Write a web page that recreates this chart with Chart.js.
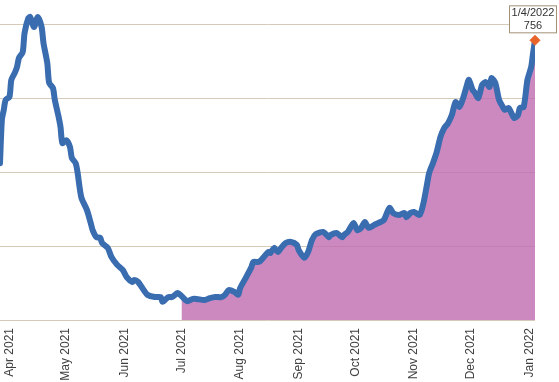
<!DOCTYPE html>
<html>
<head>
<meta charset="utf-8">
<script src="https://cdn.jsdelivr.net/npm/chart.js@4.4.1/dist/chart.umd.min.js"></script>
<style>
  html, body { margin: 0; padding: 0; background: #ffffff; }
  #chart { display: block; }
</style>
</head>
<body>
<canvas id="chart" width="559" height="382"></canvas>
<script>
// daily series
const dates = [
  "2021-03-27", "2021-03-28", "2021-03-29", "2021-03-30", "2021-04-01", "2021-04-02",
  "2021-04-04", "2021-04-05", "2021-04-06", "2021-04-08", "2021-04-09", "2021-04-11",
  "2021-04-12", "2021-04-14", "2021-04-16", "2021-04-18", "2021-04-19", "2021-04-21",
  "2021-04-22", "2021-04-24", "2021-04-25", "2021-04-27", "2021-04-28", "2021-04-29",
  "2021-05-01", "2021-05-03", "2021-05-04", "2021-05-06", "2021-05-07", "2021-05-09",
  "2021-05-12", "2021-05-14", "2021-05-15", "2021-05-17", "2021-05-19", "2021-05-20",
  "2021-05-23", "2021-05-25", "2021-05-28", "2021-05-31", "2021-06-02", "2021-06-05",
  "2021-06-06", "2021-06-08", "2021-06-11", "2021-06-13", "2021-06-17", "2021-06-20",
  "2021-06-21", "2021-06-24", "2021-06-26", "2021-06-29", "2021-07-01", "2021-07-04",
  "2021-07-07", "2021-07-09", "2021-07-13", "2021-07-16", "2021-07-19", "2021-07-22",
  "2021-07-24", "2021-07-26", "2021-07-29", "2021-07-31", "2021-08-01", "2021-08-04",
  "2021-08-07", "2021-08-08", "2021-08-11", "2021-08-14", "2021-08-16", "2021-08-17",
  "2021-08-19", "2021-08-21", "2021-08-23", "2021-08-25", "2021-08-28", "2021-08-31",
  "2021-09-01", "2021-09-04", "2021-09-06", "2021-09-08", "2021-09-10", "2021-09-14",
  "2021-09-17", "2021-09-18", "2021-09-21", "2021-09-24", "2021-09-25", "2021-09-27",
  "2021-09-30", "2021-10-02", "2021-10-04", "2021-10-06", "2021-10-08", "2021-10-11",
  "2021-10-13", "2021-10-16", "2021-10-19", "2021-10-21", "2021-10-24", "2021-10-27",
  "2021-10-28", "2021-10-30", "2021-11-01", "2021-11-04", "2021-11-06", "2021-11-08",
  "2021-11-09", "2021-11-11", "2021-11-13", "2021-11-15", "2021-11-17", "2021-11-19",
  "2021-11-21", "2021-11-23", "2021-11-25", "2021-11-27", "2021-11-29", "2021-11-30",
  "2021-12-02", "2021-12-03", "2021-12-05", "2021-12-07", "2021-12-09", "2021-12-11",
  "2021-12-12", "2021-12-14", "2021-12-16", "2021-12-18", "2021-12-19", "2021-12-21",
  "2021-12-24", "2021-12-26", "2021-12-27", "2021-12-29", "2021-12-31", "2022-01-02",
  "2022-01-03", "2022-01-04"
];
const values = [
  424, 541, 568, 595, 603, 649,
  670, 684, 708, 724, 776, 816,
  819, 792, 819, 792, 749, 695,
  641, 627, 595, 549, 522, 478,
  486, 468, 438, 424, 400, 332,
  297, 262, 243, 224, 222, 208,
  195, 170, 149, 135, 116, 103,
  108, 103, 81, 68, 62, 62,
  49, 62, 62, 73, 65, 51,
  57, 57, 54, 59, 62, 62,
  68, 81, 76, 68, 86, 114,
  143, 157, 157, 173, 184, 181,
  195, 184, 197, 208, 211, 203,
  189, 168, 184, 216, 232, 238,
  224, 230, 235, 224, 230, 238,
  262, 243, 249, 265, 249, 257,
  262, 270, 303, 289, 284, 289,
  278, 289, 292, 284, 316, 370,
  397, 424, 454, 495, 519, 532,
  554, 589, 576, 600, 635, 649,
  622, 616, 600, 635, 643, 630,
  654, 641, 595, 576, 568, 573,
  546, 554, 573, 576, 649, 684,
  722, 756
];
const shadeFrom = "2021-07-01";
const tickDates = [
  "2021-04-01", "2021-05-01", "2021-06-01", "2021-07-01", "2021-08-01",
  "2021-09-01", "2021-10-01", "2021-11-01", "2021-12-01", "2022-01-01"
];
const tickLabels = [
  "Apr 2021", "May 2021", "Jun 2021", "Jul 2021", "Aug 2021",
  "Sep 2021", "Oct 2021", "Nov 2021", "Dec 2021", "Jan 2022"
];
const gridValues = [0, 200, 400, 600, 800];
const calloutDate = "1/4/2022";

const dayNum = (s) => Date.parse(s + "T00:00:00Z") / 86400000;

const points = dates.map((d, i) => ({ x: dayNum(d), y: values[i] }));
const shaded = points.filter(p => p.x >= dayNum(shadeFrom));
const last = points[points.length - 1];

// box with the date and value over the last point
const calloutPlugin = {
    id: "callout",
    afterDatasetsDraw(chart) {
        const pt = chart.getDatasetMeta(2).data[0];
        if (!pt) return;
        const ctx = chart.ctx;
        const w = 48, h = 28;
        const left = pt.x - 26, top = pt.y - 35;
        ctx.save();
        ctx.fillStyle = "#ffffff";
        ctx.fillRect(left, top, w, h);
        ctx.strokeStyle = "#a39278";
        ctx.lineWidth = 1;
        ctx.strokeRect(left + 0.5, top + 0.5, w - 1, h - 1);
        ctx.fillStyle = "#333333";
        ctx.font = "11px 'Liberation Sans', Arial, sans-serif";
        ctx.textAlign = "center";
        ctx.textBaseline = "middle";
        ctx.fillText(calloutDate, left + w / 2, top + 8);
        ctx.fillText(String(last.y), left + w / 2, top + 21);
        ctx.restore();
    },
};

const ctx = document.getElementById("chart").getContext("2d");
new Chart(ctx, {
    type: "line",
    data: {
        datasets: [
            {
                data: points,
                borderColor: "#3a6cb0",
                borderWidth: 6,
                borderJoinStyle: "round",
                borderCapStyle: "round",
                pointRadius: 0,
                tension: 0.25,
                fill: false,
                order: 1,
            },
            {
                data: shaded,
                borderWidth: 0,
                borderColor: "rgba(0,0,0,0)",
                backgroundColor: "rgba(190, 108, 176, 0.8)",
                pointRadius: 0,
                tension: 0.25,
                fill: "origin",
                order: 2,
            },
            {
                data: [last],
                showLine: false,
                clip: false,
                pointStyle: "rectRot",
                pointRadius: 5,
                pointBackgroundColor: "#e8642a",
                pointBorderColor: "#e8642a",
                order: 0,
            },
        ],
    },
    options: {
        responsive: false,
        animation: false,
        layout: {
            autoPadding: false,
            padding: { left: 0, right: 24, top: 0, bottom: 0 },
        },
        plugins: {
            legend: { display: false },
            tooltip: { enabled: false },
        },
        scales: {
            x: {
                type: "linear",
                min: points[0].x,
                max: last.x,
                grid: { display: false, drawTicks: false },
                border: { display: false },
                afterBuildTicks: (scale) => {
                    scale.ticks = tickDates.map(d => ({ value: dayNum(d) }));
                },
                afterFit: (scale) => {
                    scale.height = 62;
                    scale.paddingLeft = 0;
                    scale.paddingRight = 0;
                },
                ticks: {
                    autoSkip: false,
                    minRotation: 90,
                    maxRotation: 90,
                    padding: 8,
                    color: "#404040",
                    font: { family: "'Liberation Sans', Arial, sans-serif", size: 12 },
                    callback: (value, index) => tickLabels[index],
                },
            },
            y: {
                min: 0,
                max: 865,
                afterBuildTicks: (scale) => {
                    scale.ticks = gridValues.map(v => ({ value: v }));
                },
                afterFit: (scale) => {
                    scale.width = 0;
                    scale.paddingTop = 0;
                    scale.paddingBottom = 0;
                },
                border: { display: false },
                grid: { color: "#d6cab8", lineWidth: 1, drawTicks: false },
                ticks: { display: false },
            },
        },
    },
    plugins: [calloutPlugin],
});
</script>
</body>
</html>
